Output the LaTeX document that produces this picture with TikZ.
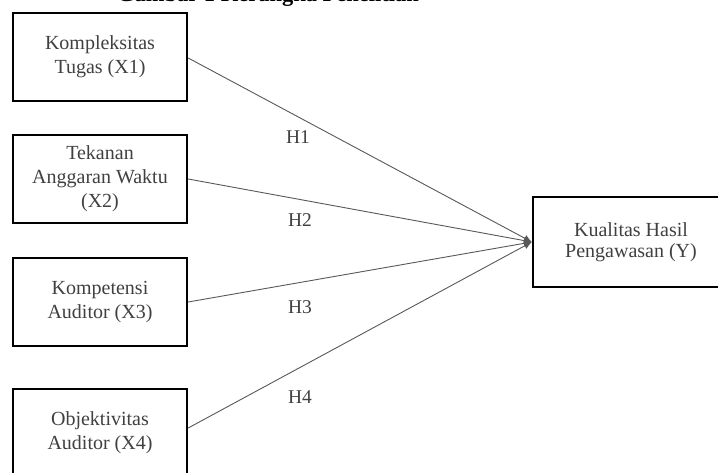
\documentclass[tikz,border=0pt]{standalone}
\usepackage{fontspec}
\setmainfont{Liberation Serif}
\usetikzlibrary{arrows.meta}
\begin{document}
\begin{tikzpicture}[x=1pt,y=-1pt,
  varbox/.style={draw=black,line width=2.4pt,minimum width=174pt,minimum height=88pt,
    align=center,font=\fontsize{20}{24}\selectfont,text=black!75,inner sep=0pt},
  link/.style={draw=black!65,line width=0.9pt,-{Latex[length=8pt,width=7pt]}},
  hlabel/.style={font=\fontsize{19.5}{23}\selectfont,text=black!75}]
\useasboundingbox (0,0) rectangle (718,473);
\clip (0,0) rectangle (718,473);
\fill[white] (0,0) rectangle (718,473);
\node[anchor=base,font=\bfseries\fontsize{22.5}{26}\selectfont] (title) at (268,2) {Gambar 1 Kerangka Penelitian};
\node[varbox] (x1) at (100,57) {Kompleksitas\\Tugas (X1)};
\node[varbox] (x2) at (100,179) {Tekanan\\Anggaran Waktu\\(X2)};
\node[varbox] (x3) at (100,302) {Kompetensi\\Auditor (X3)};
\node[varbox] (x4) at (100,433) {Objektivitas\\Auditor (X4)};
\node[varbox,minimum width=196pt,minimum height=90pt,font=\fontsize{20}{21}\selectfont] (y) at (631,242) {Kualitas Hasil\\Pengawasan (Y)};
\draw[link] (x1.east |- 0,58) -- (y.west);
\draw[link] (x2.east) -- (y.west);
\draw[link] (x3.east) -- (y.west);
\draw[link] (x4.east |- 0,428) -- (y.west);
\node[hlabel] (h1) at (298,137) {H1};
\node[hlabel] (h2) at (300,220) {H2};
\node[hlabel] (h3) at (300,307) {H3};
\node[hlabel] (h4) at (300,397) {H4};
\end{tikzpicture}
\end{document}
